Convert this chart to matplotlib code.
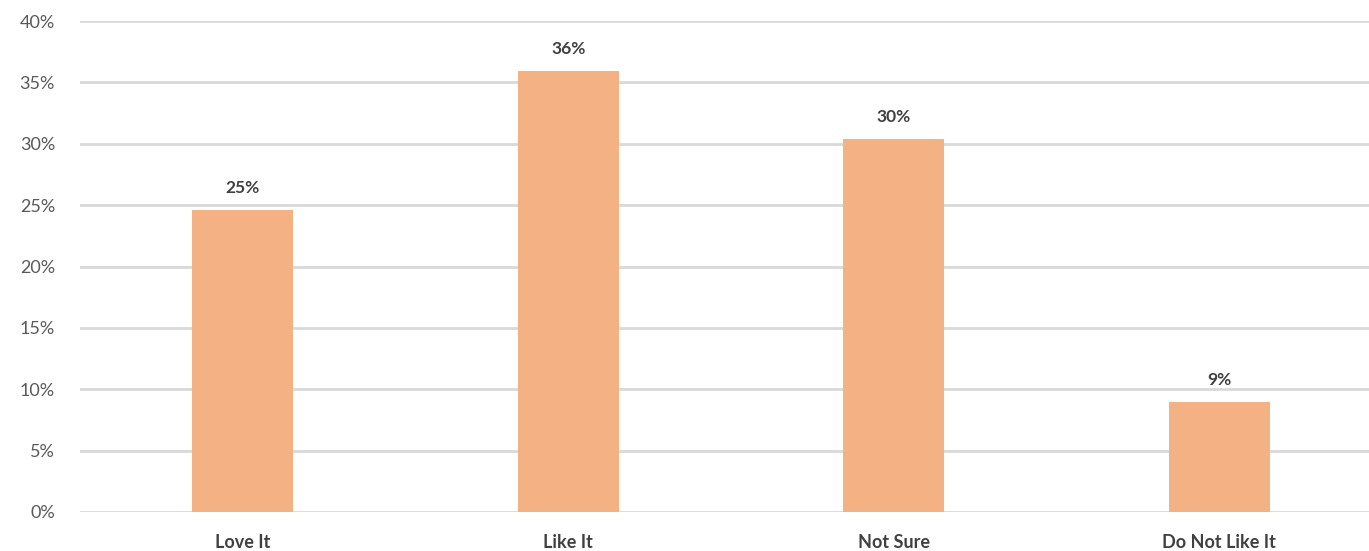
import matplotlib.pyplot as plt
from matplotlib.ticker import PercentFormatter

categories = ["Love It", "Like It", "Not Sure", "Do Not Like It"]
values = [24.6, 35.9, 30.4, 9.0]
labels = ["25%", "36%", "30%", "9%"]

plt.rcParams['font.family'] = ['Lato', 'DejaVu Sans']

fig = plt.figure(figsize=(13.69, 5.51), dpi=100)
ax = fig.add_axes([80 / 1369, 39 / 551, 1 - 80 / 1369, (512 - 21) / 551])

x = range(len(categories))
bars = ax.bar(x, values, width=0.31, color='#F4B183', zorder=2)

# value labels above each bar
for b, lab in zip(bars, labels):
    ax.annotate(lab, (b.get_x() + b.get_width() / 2, b.get_height()),
                xytext=(0, 10), textcoords='offset points', ha='center', va='bottom',
                fontsize=12.5, fontweight='bold', color='#404040')

ax.set_ylim(0, 40)
ax.set_xlim(-0.5, 3.46)
ax.set_yticks(range(0, 41, 5))
ax.yaxis.set_major_formatter(PercentFormatter(decimals=0))
ax.set_xticks(list(x))
ax.set_xticklabels(categories, fontweight='bold', fontsize=13, color='#404040')

ax.grid(axis='y', color='#D9D9D9', linewidth=2, zorder=0)
ax.tick_params(axis='y', length=0, labelsize=13, labelcolor='#595959', pad=18)
ax.tick_params(axis='x', length=0, pad=16)
for s in ax.spines.values():
    s.set_visible(False)

fig.savefig('out.png', dpi=100)
